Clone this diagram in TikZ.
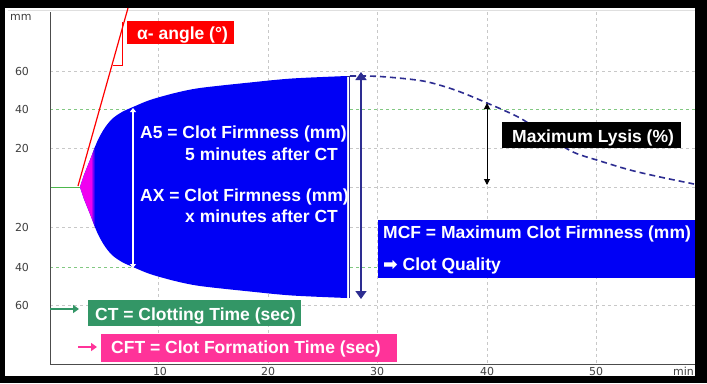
\documentclass[tikz,border=0pt]{standalone}
\usepackage{fontspec}
\setmainfont{Liberation Sans}
\newfontfamily\dv{DejaVu Sans}
\usetikzlibrary{arrows.meta}
\definecolor{clotblue}{RGB}{0,0,245}
\definecolor{navyc}{RGB}{45,45,145}
\definecolor{ctgreen}{RGB}{51,150,102}
\definecolor{cftpink}{RGB}{255,51,153}
\definecolor{alphared}{RGB}{255,0,0}
\definecolor{gridgray}{RGB}{200,200,200}
\definecolor{gridgreen}{RGB}{130,200,130}
\definecolor{magc}{RGB}{240,0,240}
\begin{document}
\begin{tikzpicture}[x=1pt,y=-1pt,
  lbl/.style={font=\bfseries\fontsize{17.5}{20}\selectfont, text=white, inner sep=0pt, anchor=base west},
  tick/.style={font=\dv\fontsize{11}{13}\selectfont, text=black!75, inner sep=0pt},
  gridl/.style={gridgray, dash pattern=on 3pt off 3pt, line width=0.7pt},
  ggridl/.style={gridgreen, dash pattern=on 3pt off 3pt, line width=0.7pt},
]
\useasboundingbox (0,0) rectangle (707,383);
\fill[black] (0,0) rectangle (707,383);
\fill[white] (5,8) rectangle (695,376);
\draw[gray!25, line width=0.6pt] (8,10) -- (695,10);
% grid
\foreach \x in {158,268,377,487,596} \draw[gridl] (\x,12) -- (\x,364);
\foreach \y in {71,148,227,305} \draw[gridl] (50,\y) -- (695,\y);
\draw[gridl] (80,187) -- (695,187);
\foreach \y in {109,267} \draw[ggridl] (50,\y) -- (695,\y);
\draw[green!60!black!70, line width=0.8pt] (50,187) -- (80,187);
% axes
\draw[black!70, line width=0.8pt] (50,12) -- (50,364) -- (695,364);
% tick labels
\node[tick, anchor=west] (ymm) at (10,17) {mm};
\foreach \y/\t [count=\i] in {71/60,109/40,148/20,227/20,267/40,305/60}
  \node[tick] (yl\i) at (22,\y) {\t};
\foreach \x/\t [count=\i] in {160/10,268/20,377/30,487/40,596/50}
  \node[tick] (xl\i) at (\x,371) {\t};
\node[tick, anchor=east] (xmin) at (694,371) {min};
% clot shape
\fill[clotblue] plot[smooth] coordinates {(80,187) (84,175) (90,160) (97,142) (104,129) (112,119) (122,112) (133,107) (150,100) (175,93) (200,88) (250,82.5) (292,78.5) (347,76)}
  -- plot[smooth] coordinates {(347,298) (292,295.5) (250,291.5) (200,286) (175,281) (150,274) (133,267) (122,262) (112,255) (104,245) (97,232) (90,214) (84,199) (80,187)} -- cycle;
\begin{scope}
\clip plot[smooth] coordinates {(80,187) (84,175) (90,160) (97,142) (104,129) (112,119) (122,112) (133,107) (150,100) (175,93) (200,88) (250,82.5) (292,78.5) (347,76)}
  -- plot[smooth] coordinates {(347,298) (292,295.5) (250,291.5) (200,286) (175,281) (150,274) (133,267) (122,262) (112,255) (104,245) (97,232) (90,214) (84,199) (80,187)} -- cycle;
\fill[magc] (76,140) rectangle (91,235);
\shade[left color=magc, right color=clotblue] (91,140) rectangle (95,235);
\end{scope}
\draw[navyc, line width=0.8pt] (347,76) -- (352,76);
\draw[navyc, line width=0.6pt] (349,76) -- (349,298);
% dashed lysis curve
\draw[navyc, line width=1.6pt, dash pattern=on 6pt off 4pt] plot[smooth] coordinates {(350,76) (380,76.5) (423,81) (455,90) (487,103) (520,118) (547,136) (573,152) (600,161) (630,170) (660,177) (694,184)};
% alpha angle
\coordinate (alphaA) at (78,186);
\coordinate (alphaB) at (128,8);
\draw[alphared, line width=1.2pt] (alphaA) -- (alphaB);
\coordinate (angA) at (112.5,65);
\coordinate (angB) at (122,65);
\coordinate (angC) at (122,22);
\draw[alphared, line width=0.8pt] (angA) -- (angB) -- (angC);
\fill[alphared] (127,21) rectangle (234,44);
\node[lbl] (alphalbl) at (137,39) {α- angle (°)};
% A5 / AX arrow
\coordinate (a5top) at (133,108);
\coordinate (a5bot) at (133,268);
\draw[white, line width=1.8pt, {Triangle[width=6pt,length=4pt]}-{Triangle[width=6pt,length=4pt]}] (a5top) -- (a5bot);
\node[lbl] (a5a) at (140,138) {A5 = Clot Firmness (mm)};
\node[lbl] (a5b) at (185,160) {5 minutes after CT};
\node[lbl] (axa) at (140,201) {AX = Clot Firmness (mm)};
\node[lbl] (axb) at (185,222) {x minutes after CT};
% MCF arrow
\coordinate (mcftop) at (361,72);
\coordinate (mcfbot) at (361,299);
\draw[navyc, line width=1.5pt, {Triangle[width=11pt,length=8pt]}-{Triangle[width=11pt,length=8pt]}] (mcftop) -- (mcfbot);
\fill[clotblue] (378,220) rectangle (695,278);
\node[lbl] (mcfa) at (383,238) {MCF = Maximum Clot Firmness (mm)};
\node[lbl] (mcfb) at (383,270) {{\dv\fontsize{17.5}{20}\selectfont ➡} Clot Quality};
% lysis
\coordinate (lystop) at (487,103);
\coordinate (lysbot) at (487,185);
\draw[black, line width=1pt, {Triangle[width=6pt,length=6pt]}-{Triangle[width=6pt,length=6pt]}] (lystop) -- (lysbot);
\fill[black] (502,122) rectangle (681,148);
\node[lbl] (lys) at (512,142) {Maximum Lysis (\%)};
% CT
\coordinate (ctA) at (50,309);
\coordinate (ctB) at (79,309);
\draw[ctgreen, line width=2pt, -{Triangle[width=8pt,length=6pt]}] (ctA) -- (ctB);
\fill[ctgreen] (88,300) rectangle (301,326);
\node[lbl] (ct) at (95,320) {CT = Clotting Time (sec)};
% CFT
\coordinate (cftA) at (78,347);
\coordinate (cftB) at (97,347);
\draw[cftpink, line width=2pt, -{Triangle[width=8pt,length=6pt]}] (cftA) -- (cftB);
\fill[cftpink] (101,334) rectangle (397,362);
\node[lbl] (cft) at (111,353) {CFT = Clot Formation Time (sec)};
\end{tikzpicture}
\end{document}
